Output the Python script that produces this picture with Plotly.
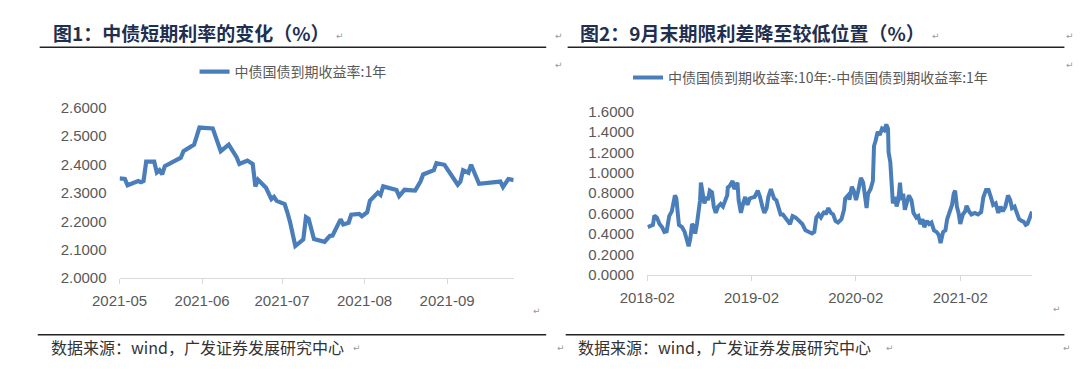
import plotly.graph_objects as go

# ---------------- data ----------------
short_dates = [
    "2021-05-01", "2021-05-03", "2021-05-04", "2021-05-08", "2021-05-09", "2021-05-10",
    "2021-05-11", "2021-05-14", "2021-05-15", "2021-05-16", "2021-05-17", "2021-05-18",
    "2021-05-24", "2021-05-25", "2021-05-29", "2021-05-31", "2021-06-05", "2021-06-08",
    "2021-06-11", "2021-06-14", "2021-06-15", "2021-06-18", "2021-06-20", "2021-06-21",
    "2021-06-22", "2021-06-25", "2021-06-27", "2021-06-28", "2021-06-29", "2021-07-02",
    "2021-07-03", "2021-07-04", "2021-07-06", "2021-07-09", "2021-07-10", "2021-07-11",
    "2021-07-13", "2021-07-17", "2021-07-19", "2021-07-20", "2021-07-23", "2021-07-24",
    "2021-07-26", "2021-07-27", "2021-07-30", "2021-07-31", "2021-08-02", "2021-08-03",
    "2021-08-06", "2021-08-07", "2021-08-08", "2021-08-13", "2021-08-14", "2021-08-16",
    "2021-08-20", "2021-08-22", "2021-08-23", "2021-08-27", "2021-08-28", "2021-08-31",
    "2021-09-05", "2021-09-06", "2021-09-07", "2021-09-09", "2021-09-10", "2021-09-13",
    "2021-09-21", "2021-09-22", "2021-09-24", "2021-09-26",
]
short_yield = [
    2.351, 2.349, 2.327, 2.342, 2.338, 2.342,
    2.410, 2.410, 2.372, 2.380, 2.365, 2.394,
    2.424, 2.447, 2.470, 2.530, 2.527, 2.447,
    2.470, 2.425, 2.402, 2.414, 2.402, 2.323,
    2.346, 2.318, 2.278, 2.286, 2.272, 2.261,
    2.232, 2.198, 2.113, 2.136, 2.215, 2.209,
    2.138, 2.128, 2.149, 2.150, 2.207, 2.189,
    2.195, 2.223, 2.226, 2.218, 2.232, 2.272,
    2.301, 2.293, 2.323, 2.310, 2.289, 2.311,
    2.308, 2.340, 2.365, 2.380, 2.405, 2.399,
    2.329, 2.340, 2.380, 2.371, 2.399, 2.332,
    2.340, 2.321, 2.349, 2.345,
]

spread_dates = [
    "2018-02-03", "2018-02-15", "2018-02-21", "2018-02-26", "2018-03-07", "2018-03-16",
    "2018-03-25", "2018-04-02", "2018-04-10", "2018-04-19", "2018-04-28", "2018-05-09",
    "2018-05-14", "2018-05-23", "2018-06-03", "2018-06-12", "2018-06-20", "2018-06-26",
    "2018-07-02", "2018-07-08", "2018-07-13", "2018-07-19", "2018-07-25", "2018-07-30",
    "2018-08-05", "2018-08-08", "2018-08-14", "2018-08-20", "2018-08-28", "2018-09-02",
    "2018-09-08", "2018-09-16", "2018-09-22", "2018-09-29", "2018-10-07", "2018-10-16",
    "2018-10-24", "2018-11-01", "2018-11-08", "2018-11-10", "2018-11-17", "2018-11-27",
    "2018-12-03", "2018-12-09", "2018-12-14", "2018-12-18", "2018-12-26", "2019-01-03",
    "2019-01-10", "2019-01-18", "2019-01-26", "2019-02-03", "2019-02-12", "2019-02-23",
    "2019-03-03", "2019-03-11", "2019-03-18", "2019-03-26", "2019-04-01", "2019-04-10",
    "2019-04-15", "2019-04-21", "2019-04-29", "2019-05-07", "2019-05-14", "2019-05-22",
    "2019-05-30", "2019-06-08", "2019-06-16", "2019-06-25", "2019-07-06", "2019-07-18",
    "2019-07-29", "2019-08-09", "2019-08-21", "2019-09-01", "2019-09-09", "2019-09-16",
    "2019-09-24", "2019-10-02", "2019-10-11", "2019-10-15", "2019-10-19", "2019-10-28",
    "2019-11-06", "2019-11-14", "2019-11-22", "2019-12-01", "2019-12-13", "2019-12-22",
    "2019-12-26", "2020-01-05", "2020-01-10", "2020-01-18", "2020-01-25", "2020-02-02",
    "2020-02-10", "2020-02-19", "2020-02-27", "2020-03-04", "2020-03-10", "2020-03-15",
    "2020-03-24", "2020-04-01", "2020-04-05", "2020-04-10", "2020-04-18", "2020-04-25",
    "2020-05-03", "2020-05-11", "2020-05-18", "2020-05-24", "2020-05-26", "2020-06-01",
    "2020-06-06", "2020-06-10", "2020-06-18", "2020-06-23", "2020-06-29", "2020-07-05",
    "2020-07-10", "2020-07-16", "2020-07-22", "2020-07-29", "2020-08-05", "2020-08-14",
    "2020-08-21", "2020-08-31", "2020-09-07", "2020-09-14", "2020-09-22", "2020-09-28",
    "2020-10-07", "2020-10-15", "2020-10-23", "2020-11-01", "2020-11-10", "2020-11-18",
    "2020-11-24", "2020-12-03", "2020-12-11", "2020-12-17", "2020-12-26", "2021-01-03",
    "2021-01-09", "2021-01-14", "2021-01-20", "2021-01-26", "2021-02-01", "2021-02-10",
    "2021-02-18", "2021-02-23", "2021-03-04", "2021-03-12", "2021-03-24", "2021-04-04",
    "2021-04-15", "2021-04-23", "2021-05-02", "2021-05-11", "2021-05-19", "2021-05-27",
    "2021-06-05", "2021-06-14", "2021-06-22", "2021-06-30", "2021-07-09", "2021-07-18",
    "2021-07-26", "2021-08-01", "2021-08-10", "2021-08-18", "2021-08-26", "2021-09-04",
    "2021-09-11", "2021-09-18", "2021-09-24", "2021-10-01", "2021-10-10",
]
spread_values = [
    0.467, 0.482, 0.489, 0.582, 0.561, 0.498,
    0.467, 0.421, 0.426, 0.576, 0.622, 0.779,
    0.748, 0.489, 0.467, 0.421, 0.342, 0.280,
    0.358, 0.498, 0.482, 0.405, 0.498, 0.607,
    0.732, 0.903, 0.825, 0.701, 0.763, 0.732,
    0.825, 0.809, 0.669, 0.607, 0.669, 0.694,
    0.669, 0.732, 0.779, 0.856, 0.872, 0.919,
    0.841, 0.872, 0.903, 0.732, 0.607, 0.701,
    0.763, 0.685, 0.748, 0.757, 0.763, 0.825,
    0.763, 0.669, 0.607, 0.654, 0.763, 0.841,
    0.809, 0.748, 0.732, 0.669, 0.592, 0.592,
    0.561, 0.529, 0.498, 0.576, 0.561, 0.529,
    0.498, 0.436, 0.421, 0.405, 0.421, 0.561,
    0.592, 0.561, 0.607, 0.622, 0.592, 0.654,
    0.607, 0.592, 0.529, 0.514, 0.545, 0.638,
    0.748, 0.779, 0.738, 0.863, 0.825, 0.732,
    0.825, 0.950, 0.903, 0.779, 0.654, 0.794,
    0.841, 0.919, 1.262, 1.308, 1.402, 1.370,
    1.433, 1.417, 1.473, 1.433, 1.199, 1.106,
    0.919, 0.701, 0.763, 0.669, 0.732, 0.903,
    0.732, 0.794, 0.638, 0.716, 0.779, 0.732,
    0.607, 0.561, 0.576, 0.498, 0.545, 0.467,
    0.529, 0.498, 0.514, 0.436, 0.421, 0.389,
    0.311, 0.421, 0.436, 0.545, 0.607, 0.685,
    0.794, 0.825, 0.669, 0.607, 0.498, 0.592,
    0.622, 0.676, 0.622, 0.592, 0.607, 0.592,
    0.614, 0.763, 0.832, 0.832, 0.763, 0.685,
    0.701, 0.607, 0.669, 0.622, 0.669, 0.779,
    0.732, 0.654, 0.669, 0.592, 0.545, 0.529,
    0.520, 0.490, 0.500, 0.550, 0.620,
]

title_left = "图1：中债短期利率的变化（%）"
title_right = "图2：9月末期限利差降至较低位置（%）"
name_left = "中债国债到期收益率:1年"
name_right = "中债国债到期收益率:10年:-中债国债到期收益率:1年"
source_text = "数据来源：wind，广发证券发展研究中心"

# ---------------- style ----------------
W, H = 1080, 381
BLUE = "#4a7ebb"
GRAY = "#595959"
AXIS = "#d9d9d9"
NUM_FONT = "Liberation Sans, Arial, Noto Sans CJK SC"
CJK_FONT = "Noto Sans CJK SC, Liberation Sans"


def px_x(p):
    return p / W


def px_y(p):
    return 1 - p / H


fig = go.Figure()
fig.add_trace(go.Scatter(x=short_dates, y=short_yield, mode="lines", name=name_left,
                         line=dict(color=BLUE, width=4.2), xaxis="x", yaxis="y",
                         legend="legend"))
fig.add_trace(go.Scatter(x=spread_dates, y=spread_values, mode="lines", name=name_right,
                         line=dict(color=BLUE, width=4), xaxis="x2", yaxis="y2",
                         legend="legend2"))

axis_common = dict(showgrid=False, zeroline=False, fixedrange=True,
                   tickfont=dict(family=NUM_FONT, size=15, color=GRAY))

fig.update_layout(
    width=W, height=H, autosize=False,
    margin=dict(l=0, r=0, t=0, b=0),
    paper_bgcolor="white", plot_bgcolor="white",
    xaxis=dict(domain=[px_x(94), px_x(498.6)], anchor="y", type="date",
               range=["2021-05-01", "2021-09-26"], tick0="2021-05-01", dtick="M1",
               tickformat="%Y-%m", showline=True, linecolor=AXIS, linewidth=1.3,
               ticks="outside", ticklen=5, tickcolor=AXIS, ticklabelstandoff=4,
               **axis_common),
    yaxis=dict(domain=[px_y(281.7), px_y(103.3)], anchor="x", range=[2.0, 2.6],
               dtick=0.1, tickformat=".4f", showline=False, ticks="",
               ticklabelstandoff=12, **axis_common),
    xaxis2=dict(domain=[px_x(635.7), px_x(1030.7)], anchor="y2", type="date",
                range=["2018-02-01", "2021-10-10"], tick0="2018-02-01", dtick="M12",
                tickformat="%Y-%m", showline=True, linecolor=AXIS, linewidth=1.3,
                ticks="outside", ticklen=5, tickcolor=AXIS, ticklabelstandoff=4,
                **axis_common),
    yaxis2=dict(domain=[px_y(278.3), px_y(107.3)], anchor="x2", range=[0, 1.6],
                dtick=0.2, tickformat=".4f", showline=False, ticks="",
                ticklabelstandoff=12, **axis_common),
    legend=dict(x=px_x(171), y=px_y(66), xanchor="left", yanchor="middle",
                orientation="h", bgcolor="rgba(0,0,0,0)",
                font=dict(family=CJK_FONT, size=14, color=GRAY)),
    legend2=dict(x=px_x(616), y=px_y(72), xanchor="left", yanchor="middle",
                 orientation="h", bgcolor="rgba(0,0,0,0)",
                 font=dict(family=CJK_FONT, size=14, color=GRAY)),
    showlegend=True,
)

# title rules and footer rules
for x0, x1 in [(12, 532), (554, 1064)]:
    fig.add_shape(type="line", xref="paper", yref="paper",
                  x0=px_x(x0), x1=px_x(x1), y0=px_y(40), y1=px_y(40),
                  line=dict(color="#222222", width=1.5))
    fig.add_shape(type="line", xref="paper", yref="paper",
                  x0=px_x(x0 - 2), x1=px_x(x1), y0=px_y(341), y1=px_y(341),
                  line=dict(color="#222222", width=1.5))

TITLE_COLOR = "#1f2f4f"
fig.add_annotation(x=px_x(24), y=px_y(25), xref="paper", yref="paper",
                   xanchor="left", yanchor="middle", showarrow=False,
                   text="<b>" + title_left + "</b>",
                   font=dict(family=CJK_FONT, size=19, color=TITLE_COLOR))
fig.add_annotation(x=px_x(565), y=px_y(25), xref="paper", yref="paper",
                   xanchor="left", yanchor="middle", showarrow=False,
                   text="<b>" + title_right + "</b>",
                   font=dict(family=CJK_FONT, size=19, color=TITLE_COLOR))

for fx in [22, 563]:
    fig.add_annotation(x=px_x(fx), y=px_y(354), xref="paper", yref="paper",
                       xanchor="left", yanchor="middle", showarrow=False,
                       text=source_text,
                       font=dict(family=CJK_FONT, size=16, color="#333333"))

# Word paragraph marks
marks = [(320, 28), (545, 28), (932, 28), (1070, 28), (545, 59), (1070, 59),
         (523, 316), (1056, 314), (338, 355), (547, 355), (885, 355), (1067, 355)]
for mx, my in marks:
    fig.add_annotation(x=px_x(mx), y=px_y(my), xref="paper", yref="paper",
                       xanchor="center", yanchor="middle", showarrow=False,
                       text="↵", font=dict(family="DejaVu Sans", size=9, color="#9a9a9a"))

fig.write_html("out.html", config={"displayModeBar": False, "staticPlot": True},
               post_script="document.body.style.margin='0';document.body.style.overflow='hidden';")
